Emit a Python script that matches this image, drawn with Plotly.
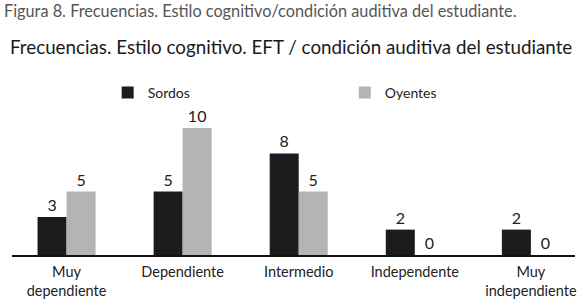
import plotly.graph_objects as go

categories = ["Muy<br>dependiente", "Dependiente", "Intermedio", "Independente", "Muy<br>independiente"]
sordos = [3, 5, 8, 2, 2]
oyentes = [5, 10, 5, 0, 0]

FONT = "Lato"
BLACK = "#1d1c1c"
GRAY = "#b4b4b6"
TXT = "#222222"

fig = go.Figure()
fig.add_trace(go.Bar(
    x=categories, y=sordos, name="Sordos", marker=dict(color=BLACK, line=dict(width=0)),
    text=[str(v) for v in sordos], textposition="outside", cliponaxis=False,
    textfont=dict(family=FONT, size=16, color=TXT), legend="legend",
))
fig.add_trace(go.Bar(
    x=categories, y=oyentes, name="Oyentes", marker=dict(color=GRAY, line=dict(width=0)),
    text=[str(v) for v in oyentes], textposition="outside", cliponaxis=False,
    textfont=dict(family=FONT, size=16, color=TXT), legend="legend2",
))

W, H = 580, 305
ML, MR, MT, MB = 12, 3, 80, 50
PW, PH = W - ML - MR, H - MT - MB

def px_x(x):
    return (x - ML) / PW

def px_y(y):
    return (H - MB - y) / PH

leg_common = dict(orientation="h", xanchor="left", yanchor="middle", bgcolor="rgba(0,0,0,0)",
                  font=dict(family=FONT, size=14, color=TXT), itemclick=False, itemdoubleclick=False)

fig.update_layout(
    width=W, height=H,
    margin=dict(l=ML, r=MR, t=MT, b=MB),
    paper_bgcolor="white", plot_bgcolor="white",
    barmode="group", bargap=0.5, bargroupgap=0,
    font=dict(family=FONT, size=14, color=TXT),
    showlegend=True,
    legend=dict(x=px_x(108), y=px_y(93), **leg_common),
    legend2=dict(x=px_x(346), y=px_y(93), **leg_common),
    xaxis=dict(range=[-0.47, 4.38], showline=True, linecolor="#111111", linewidth=1.5,
               ticks="", showgrid=False, ticklabelstandoff=3,
               tickfont=dict(family=FONT, size=14.5, color=TXT)),
    yaxis=dict(range=[0, PH / 12.7], visible=False, showgrid=False),
    title=dict(text="Frecuencias. Estilo cognitivo. EFT / condición auditiva del estudiante",
               x=10 / W, xanchor="left", y=1 - 47 / H, yanchor="middle",
               xref="container", yref="container",
               font=dict(family=FONT, size=18.8, color="#1a1a1a")),
    annotations=[
        dict(text="Figura 8. Frecuencias. Estilo cognitivo/condición auditiva del estudiante.",
             xref="paper", yref="paper", x=px_x(2), y=px_y(10), xanchor="left", yanchor="middle",
             showarrow=False, font=dict(family=FONT, size=16.3, color="#555555")),
    ],
)
fig.write_html("out.html", config={"displayModeBar": False},
               post_script="document.body.style.margin='0';document.body.style.padding='0';")
